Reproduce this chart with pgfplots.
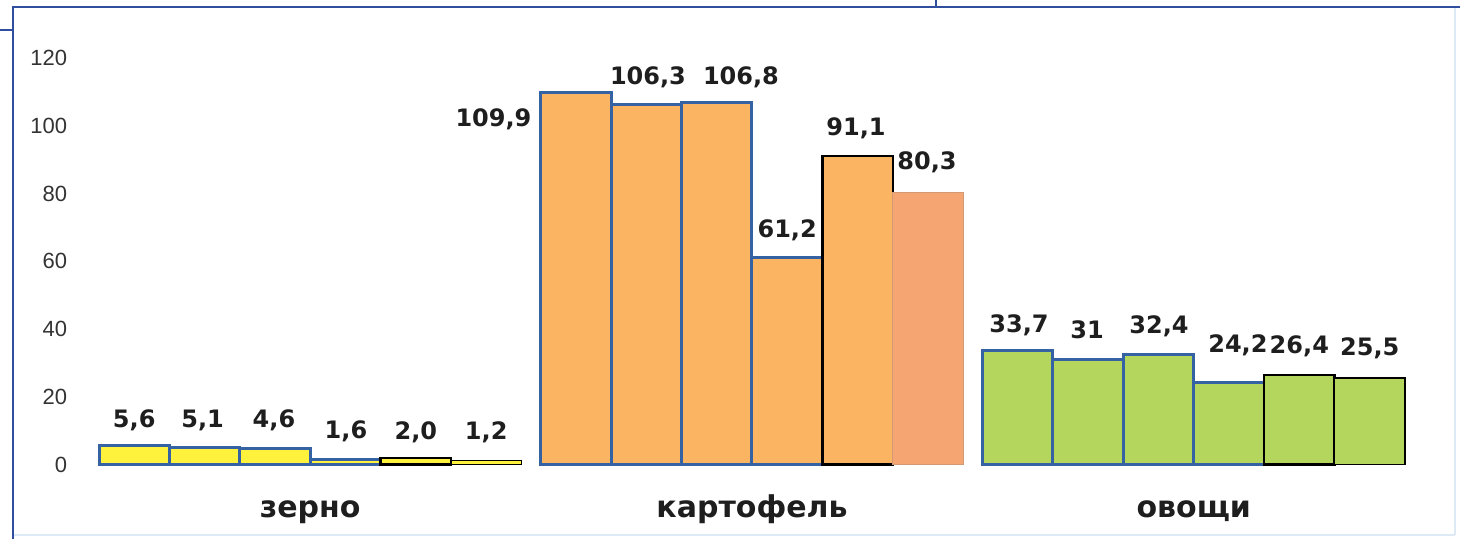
\documentclass[border=0pt]{standalone}
\usepackage{fontspec}
\usepackage{pgfplots}
\pgfplotsset{compat=1.18}
\setmainfont{Liberation Sans}
\newfontfamily\dejavu{DejaVu Sans}

\definecolor{cyel}{HTML}{FFF23C}
\definecolor{corange}{HTML}{FAB462}
\definecolor{csalmon}{HTML}{F4A571}
\definecolor{cgreen}{HTML}{B4D65C}
\definecolor{cblue}{HTML}{3562A2}
\definecolor{cframe}{HTML}{2F4F9E}
\definecolor{cfaint}{HTML}{DDEAF6}
\definecolor{txt}{HTML}{1E1E1E}
\definecolor{tickgray}{HTML}{333333}

\newcommand\valfont{\dejavu\bfseries\fontsize{12}{14}\selectfont}
\newcommand\catfont{\dejavu\bfseries\fontsize{15}{18}\selectfont}
\newcommand\tickfont{\fontsize{11}{13}\selectfont}

\pgfplotsset{
  lbl/.style={
    point meta=explicit symbolic,
    nodes near coords,
    visualization depends on={value \thisrow{dx}\as\labdx},
    visualization depends on={value \thisrow{dy}\as\labdy},
    every node near coord/.append style={anchor=base, inner sep=0pt,
      xshift=\labdx pt, yshift=\labdy pt, font=\valfont, text=txt},
  },
  bars/.style={ybar, bar width=1, bar shift=0pt, lbl},
}

\begin{document}
\begin{tikzpicture}
\begin{axis}[
  name=ax,
  at={(0,0)}, anchor=south west,
  scale only axis,
  width=665.28pt, height=203.1pt,
  xmin=0, xmax=18.9, ymin=0, ymax=120,
  axis line style={draw=none},
  major tick length=0pt,
  ytick={0,20,...,120},
  xtick={3,9.275,15.55},
  xticklabels={зерно,картофель,овощи},
  xticklabel style={font=\catfont, anchor=base, inner sep=0pt, yshift=-26.4pt, text=txt},
  yticklabel style={font=\tickfont, anchor=east, inner sep=0pt, xshift=-15.75pt, text=tickgray},
  /pgf/number format/assume math mode=true,
  clip=false,
]

% зерно
\addplot[bars, fill=cyel, draw=cblue, line width=1.5pt] table[x=x, y=y, meta=lab] {
x y dx dy lab
0.5 5.6 0 9.25 5,6
1.5 5.1 -1 10.1 5,1
2.5 4.6 -0.5 10.95 4,6
3.5 1.6 0.3 10.05 1,6
};
\addplot[bars, fill=cyel, draw=black, line width=1.2pt] table[x=x, y=y, meta=lab] {
x y dx dy lab
4.5 2.0 0 9.35 2,0
};
\addplot[bars, fill=cyel, draw=black, line width=0.7pt] table[x=x, y=y, meta=lab] {
x y dx dy lab
5.5 1.2 0 10.7 1,2
};

% картофель
\addplot[bars, fill=corange, draw=cblue, line width=1.5pt] table[x=x, y=y, meta=lab] {
x y dx dy lab
6.775 109.9 -41.25 -17.25 109,9
7.775 106.3 0.8 9.85 106,3
8.775 106.8 12.1 9.0 106,8
9.775 61.2 0 10.15 61,2
};
\addplot[bars, fill=corange, draw=black, line width=1.2pt] table[x=x, y=y, meta=lab] {
x y dx dy lab
10.775 91.1 -0.8 10.55 91,1
};
\addplot[bars, fill=csalmon, draw=csalmon!70!gray, line width=0.4pt] table[x=x, y=y, meta=lab] {
x y dx dy lab
11.775 80.3 -0.5 11.35 80,3
};

% овощи
\addplot[bars, fill=cgreen, draw=cblue, line width=1.5pt] table[x=x, y=y, meta=lab] {
x y dx dy lab
13.05 33.7 0.65 9.2 33,7
14.05 31 -0.5 10.3 31
15.05 32.4 0.25 10.9 32,4
16.05 24.2 4.5 14.8 24,2
};
\addplot[bars, fill=cgreen, draw=black, line width=1.2pt] table[x=x, y=y, meta=lab] {
x y dx dy lab
17.05 26.4 0 11.05 26,4
};
\addplot[bars, fill=cgreen, draw=black, line width=0.7pt] table[x=x, y=y, meta=lab] {
x y dx dy lab
18.05 25.5 0 11.1 25,5
};
\end{axis}

\begin{scope}[shift={(ax.south west)}]
  \draw[cfaint, line width=1pt] (-43pt,-35.5pt) -- (678pt,-35.5pt);
  \draw[cfaint, line width=1pt] (678pt,-35.5pt) -- (678pt,228.75pt);
  \draw[cframe, line width=1pt] (-43pt,-37.25pt) -- (-43pt,228.75pt) -- (680.5pt,228.75pt);
  \draw[cframe, line width=1pt] (-49.5pt,217.25pt) -- (-43pt,217.25pt);
  \draw[cframe, line width=1pt] (418.5pt,228.75pt) -- (418.5pt,232.25pt);
  \pgfresetboundingbox
  \useasboundingbox (-49.5pt,-37.25pt) rectangle (680.5pt,232.25pt);
\end{scope}
\end{tikzpicture}
\end{document}
